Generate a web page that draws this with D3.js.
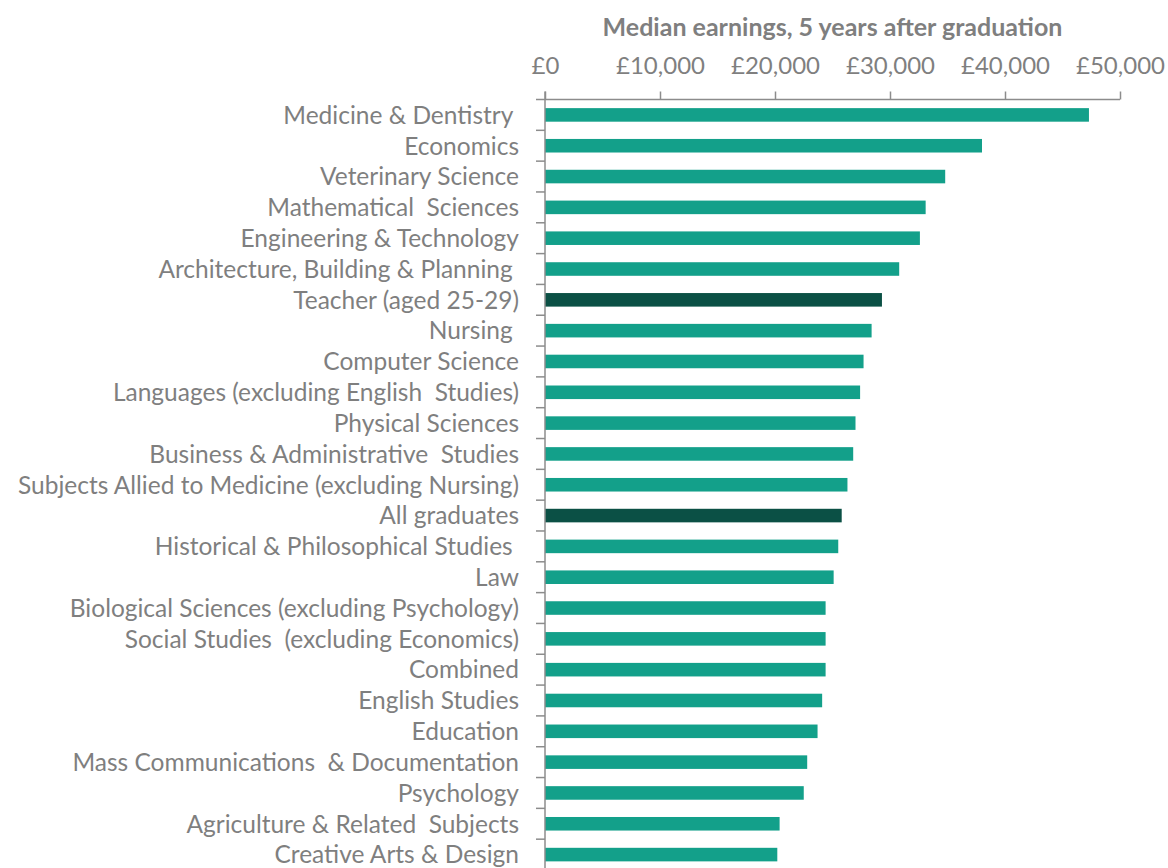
<!DOCTYPE html>
<html>
<head>
<meta charset="utf-8">
<script src="https://cdn.jsdelivr.net/npm/d3@7"></script>
<style>
  body { margin: 0; background: #fff; }
  text { white-space: pre; }
</style>
</head>
<body>
<div id="diagram_area"></div>
<script>
// median earnings by subject, 5 years after graduation

var subjects = [
    "Medicine & Dentistry ",
    "Economics",
    "Veterinary Science",
    "Mathematical  Sciences",
    "Engineering & Technology",
    "Architecture, Building & Planning ",
    "Teacher (aged 25-29)",
    "Nursing ",
    "Computer Science",
    "Languages (excluding English  Studies)",
    "Physical Sciences",
    "Business & Administrative  Studies",
    "Subjects Allied to Medicine (excluding Nursing)",
    "All graduates",
    "Historical & Philosophical Studies ",
    "Law",
    "Biological Sciences (excluding Psychology)",
    "Social Studies  (excluding Economics)",
    "Combined",
    "English Studies",
    "Education",
    "Mass Communications  & Documentation",
    "Psychology",
    "Agriculture & Related  Subjects",
    "Creative Arts & Design"
];

var earnings = [47300, 38000, 34800, 33100, 32600, 30800, 29300, 28400, 27700, 27400,
                27000, 26800, 26300, 25800, 25500, 25100, 24400, 24400, 24400, 24100,
                23700, 22800, 22500, 20400, 20200];

// the two comparison bars are drawn darker
var highlighted = ["Teacher (aged 25-29)", "All graduates"];

var tickValues = [0, 10000, 20000, 30000, 40000, 50000];
var axisTitle = "Median earnings, 5 years after graduation";

function diagram() {
    var width = 1168,
        height = 868;

    var svg = d3.select('#diagram_area').append("svg")
        .attr("width", width)
        .attr("height", height)
        .attr("font-family", "Lato, 'Open Sans', sans-serif");

    var data = subjects.map(function(s, i) { return {name: s, value: earnings[i]}; });

    var x = d3.scaleLinear()
        .domain([0, 50000])
        .range([545, 1120]);

    var y = d3.scaleBand()
        .domain(subjects)
        .range([99.5, 870])
        .paddingInner(0.56)
        .paddingOuter(0.28);

    var teal = "#13a08a",
        dark = "#0b5045",
        grey = "#7f7f7f",
        lineCol = "#8c8c8c";

    // bars
    svg.append("g")
        .selectAll("rect")
        .data(data)
        .enter().append("rect")
        .attr("x", x(0))
        .attr("y", function(d) { return y(d.name); })
        .attr("width", function(d) { return x(d.value) - x(0); })
        .attr("height", y.bandwidth())
        .attr("fill", function(d) { return highlighted.indexOf(d.name) >= 0 ? dark : teal; });

    // top value axis
    var xAxis = d3.axisTop(x)
        .tickValues(tickValues)
        .tickSize(8)
        .tickPadding(18)
        .tickFormat(function(d) { return "£" + d3.format(",")(d); });

    var gx = svg.append("g")
        .attr("transform", "translate(0," + y.range()[0] + ")")
        .call(xAxis);
    gx.select(".domain").remove();
    gx.selectAll(".tick line").attr("stroke", lineCol).attr("stroke-width", 1.5);
    gx.selectAll(".tick text")
        .attr("fill", grey)
        .attr("font-size", 24)
        .attr("font-family", "Lato, sans-serif");

    svg.append("line")
        .attr("x1", x(0) - 9)
        .attr("x2", x(50000))
        .attr("y1", y.range()[0])
        .attr("y2", y.range()[0])
        .attr("stroke", lineCol)
        .attr("stroke-width", 1.5);

    // category axis line and boundary ticks
    svg.append("line")
        .attr("x1", x(0))
        .attr("x2", x(0))
        .attr("y1", y.range()[0] - 8)
        .attr("y2", height)
        .attr("stroke", lineCol)
        .attr("stroke-width", 1.5);

    svg.append("g")
        .selectAll("line")
        .data(subjects.slice(1))
        .enter().append("line")
        .attr("x1", x(0) - 9)
        .attr("x2", x(0))
        .attr("y1", function(d) { return y(d) - y.step() * y.paddingInner() / 2; })
        .attr("y2", function(d) { return y(d) - y.step() * y.paddingInner() / 2; })
        .attr("stroke", lineCol)
        .attr("stroke-width", 1.5);

    // category labels
    svg.append("g")
        .selectAll("text")
        .data(data)
        .enter().append("text")
        .attr("x", 519)
        .attr("y", function(d) { return y(d.name) + y.bandwidth() / 2; })
        .attr("dy", "0.36em")
        .attr("text-anchor", "end")
        .attr("fill", grey)
        .attr("font-size", 24.5)
        .text(function(d) { return d.name; });

    // axis title
    svg.append("text")
        .attr("x", (x(0) + x(50000)) / 2)
        .attr("y", 36)
        .attr("text-anchor", "middle")
        .attr("fill", grey)
        .attr("font-size", 25)
        .attr("font-weight", "bold")
        .text(axisTitle);
}

diagram();
</script>
</body>
</html>
